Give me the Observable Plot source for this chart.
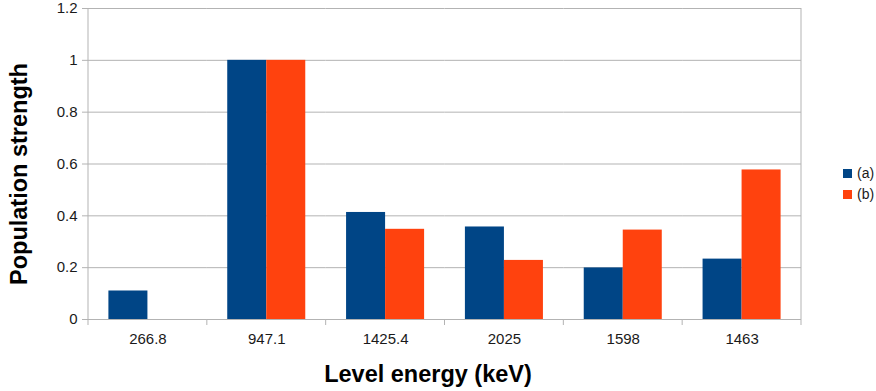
<!DOCTYPE html>
<html>
<head>
<meta charset="utf-8">
<script src="https://cdn.jsdelivr.net/npm/d3@7"></script>
<script src="https://cdn.jsdelivr.net/npm/@observablehq/plot@0.6"></script>
<style>
  html, body { margin: 0; padding: 0; background: white; }
</style>
</head>
<body>
<div id="chart"></div>
<script>
const categories = ["266.8", "947.1", "1425.4", "2025", "1598", "1463"];
const seriesNames = ["(a)", "(b)"];
const valuesA = [0.11, 1.0, 0.413, 0.357, 0.199, 0.233];
const valuesB = [null, 1.0, 0.348, 0.228, 0.345, 0.577];
const yTicks = [0, 0.2, 0.4, 0.6, 0.8, 1, 1.2];
const colors = ["#004586", "#ff420e"];
const xTitle = "Level energy (keV)";
const yTitle = "Population strength";

const data = categories.flatMap((c, i) => [
  {energy: c, series: seriesNames[0], value: valuesA[i]},
  {energy: c, series: seriesNames[1], value: valuesB[i]}
]).filter(d => d.value != null);

const W = 876, H = 391;
const chart = Plot.plot({
  width: W,
  height: H,
  marginLeft: 88,
  marginRight: 75,
  marginTop: 8,
  marginBottom: 72,
  style: {fontFamily: "'Liberation Sans', Arial, sans-serif", fontSize: "15px", color: "#1a1a1a", background: "white"},
  fx: {domain: categories, padding: 0, round: false, axis: "bottom", tickSize: 0, tickPadding: 14, label: null},
  x: {domain: seriesNames, axis: null, round: false, paddingInner: 0, paddingOuter: 0.523},
  y: {domain: [0, 1.2], ticks: yTicks, tickSize: 6, tickPadding: 5, label: null, tickFormat: d => String(d)},
  color: {domain: seriesNames, range: colors},
  marks: [
    Plot.ruleY(yTicks, {stroke: "#b3b3b3", strokeWidth: 1}),
    Plot.barY(data, {fx: "energy", x: "series", y: "value", fill: "series"})
  ]
});

document.getElementById("chart").appendChild(chart);
const svgNode = chart.tagName.toLowerCase() === "svg" ? chart : chart.querySelector("svg");
const svg = d3.select(svgNode);

svg.selectAll('[aria-label^="y-axis"] line, [aria-label^="y-axis"] path').attr("stroke", "#b3b3b3");

const fx = chart.scale("fx");
const y = chart.scale("y");
const y0 = y.apply(0), yTop = y.apply(1.2);
const bounds = categories.map(c => fx.apply(c));
bounds.push(fx.apply(categories[categories.length - 1]) + fx.bandwidth);

const g = svg.append("g").attr("stroke", "#b3b3b3").attr("stroke-width", 1);
bounds.forEach(b => {
  g.append("line").attr("x1", b).attr("x2", b).attr("y1", y0).attr("y2", y0 + 6);
});
[bounds[0], bounds[bounds.length - 1]].forEach(b => {
  g.append("line").attr("x1", b).attr("x2", b).attr("y1", yTop).attr("y2", y0);
});

// Axis titles
svg.append("text")
  .attr("x", 428).attr("y", 382)
  .attr("text-anchor", "middle")
  .attr("font-weight", "bold").attr("font-size", "23.5px").attr("fill", "#000")
  .text(xTitle);
svg.append("text")
  .attr("transform", "translate(27,174) rotate(-90)")
  .attr("text-anchor", "middle")
  .attr("font-weight", "bold").attr("font-size", "23.5px").attr("fill", "#000")
  .text(yTitle);

// Legend
const leg = svg.append("g").attr("text-anchor", "start");
seriesNames.forEach((s, i) => {
  const yy = 169 + i * 21;
  leg.append("rect").attr("x", 843).attr("y", yy).attr("width", 9).attr("height", 9).attr("fill", colors[i]);
  leg.append("text").attr("x", 857).attr("y", yy + 4.5).attr("dy", "0.35em")
    .attr("text-anchor", "start")
    .attr("font-size", "14px").attr("fill", "#1a1a1a").text(s);
});
</script>
</body>
</html>
